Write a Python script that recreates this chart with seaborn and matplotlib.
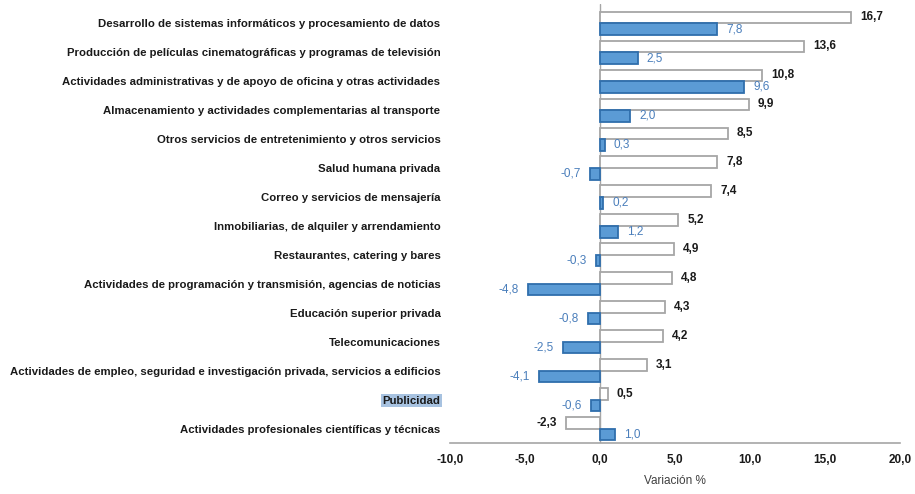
import matplotlib
matplotlib.use("Agg")
import matplotlib.pyplot as plt
import seaborn as sns
import pandas as pd

categories = [
    "Desarrollo de sistemas informáticos y procesamiento de datos",
    "Producción de películas cinematográficas y programas de televisión",
    "Actividades administrativas y de apoyo de oficina y otras actividades",
    "Almacenamiento y actividades complementarias al transporte",
    "Otros servicios de entretenimiento y otros servicios",
    "Salud humana privada",
    "Correo y servicios de mensajería",
    "Inmobiliarias, de alquiler y arrendamiento",
    "Restaurantes, catering y bares",
    "Actividades de programación y transmisión, agencias de noticias",
    "Educación superior privada",
    "Telecomunicaciones",
    "Actividades de empleo, seguridad e investigación privada, servicios a edificios",
    "Publicidad",
    "Actividades profesionales científicas y técnicas",
]
serie_a = [16.7, 13.6, 10.8, 9.9, 8.5, 7.8, 7.4, 5.2, 4.9, 4.8, 4.3, 4.2, 3.1, 0.5, -2.3]
serie_b = [7.8, 2.5, 9.6, 2.0, 0.3, -0.7, 0.2, 1.2, -0.3, -4.8, -0.8, -2.5, -4.1, -0.6, 1.0]
series_names = ["A", "B"]
xticks = [-10, -5, 0, 5, 10, 15, 20]

sns.set_theme(style="white")
plt.rcParams["font.family"] = ["Liberation Sans Narrow", "Liberation Sans", "DejaVu Sans"]

df = pd.DataFrame({
    "cat": categories * 2,
    "val": serie_a + serie_b,
    "serie": [series_names[0]] * len(categories) + [series_names[1]] * len(categories),
})

fig = plt.figure(figsize=(9.15, 4.94), dpi=100)
ax = fig.add_axes([0.492, 0.103, 0.492, 0.888])

palette = {"A": "#FFFFFF", "B": "#5B9BD5"}
sns.barplot(data=df, y="cat", x="val", hue="serie", order=categories,
            hue_order=series_names, palette=palette, orient="h",
            width=0.8, ax=ax, legend=False, saturation=1)

edge = {"A": "#A6A6A6", "B": "#2F6EAC"}
for cont, name in zip(ax.containers, series_names):
    for bar in cont:
        bar.set_edgecolor(edge[name])
        bar.set_linewidth(1.3)
    vals = serie_a if name == "A" else serie_b
    for bar, v in zip(cont, vals):
        y = bar.get_y() + bar.get_height() / 2
        txt = f"{v:.1f}".replace(".", ",")
        if name == "A":
            kw = dict(color="#1a1a1a", fontweight="bold", fontsize=8.5)
        else:
            kw = dict(color="#4A7EBB", fontsize=8.5)
        if v >= 0:
            ax.text(v + 0.6, y, txt, ha="left", va="center", **kw)
        else:
            ax.text(v - 0.6, y, txt, ha="right", va="center", **kw)

ax.set_xlim(-10, 20)
ax.set_ylim(14.5, -0.65)
ax.set_xticks(xticks)
ax.set_xticklabels([f"{t:.1f}".replace(".", ",") for t in xticks],
                   fontweight="bold", fontsize=8.5, color="#1a1a1a")
ax.axvline(0, color="#A6A6A6", lw=1.0, zorder=0)
ax.set_xlabel("Variación %", fontsize=8.5, color="#404040", labelpad=6)
ax.set_ylabel("")
ax.tick_params(axis="y", length=0, pad=7)
ax.tick_params(axis="x", length=0, pad=8)
for lab in ax.get_yticklabels():
    lab.set_fontweight("bold")
    lab.set_fontsize(8.2)
    lab.set_color("#1a1a1a")
    if lab.get_text() == "Publicidad":
        lab.set_bbox(dict(facecolor="#A7C2E0", edgecolor="none", pad=1.0))
for s in ["top", "right", "left"]:
    ax.spines[s].set_visible(False)
ax.spines["bottom"].set_color("#A6A6A6")
ax.spines["bottom"].set_linewidth(1.2)

fig.savefig("out.png", dpi=100)
